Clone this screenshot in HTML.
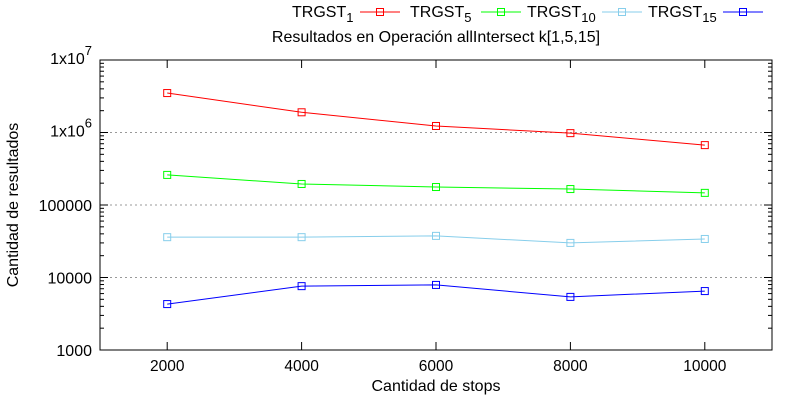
<!DOCTYPE html>
<html><head><meta charset="utf-8"><style>
html,body{margin:0;padding:0;background:#fff;}
svg text{font-family:"Liberation Sans",sans-serif;fill:#000;}
</style></head><body>
<svg id="chart" width="800" height="400" xmlns="http://www.w3.org/2000/svg">
<g id="grid"></g>
<g id="axes"></g>
<g id="series"></g>
<text x="436" y="42" font-size="16" text-anchor="middle">Resultados en Operación allIntersect k[1,5,15]</text>
<text x="436" y="391" font-size="16" text-anchor="middle">Cantidad de stops</text>
<text transform="translate(18,205) rotate(-90)" font-size="16" text-anchor="middle">Cantidad de resultados</text>
<g id="legend"></g>
</svg>
<script>
const categories = [2000, 4000, 6000, 8000, 10000];
const seriesNames = ["1", "5", "10", "15"];
const seriesColors = ["#ff0000", "#00ff00", "#87ceeb", "#0000ff"];
const trgst1 = [3500000, 1900000, 1230000, 980000, 670000];
const trgst5 = [260000, 195000, 177000, 166000, 147000];
const trgst10 = [36000, 36000, 37500, 30000, 34000];
const trgst15 = [4300, 7600, 7900, 5400, 6500];
const xTicks = [2000, 4000, 6000, 8000, 10000];
const yTicks = [1000, 10000, 100000, 1000000, 10000000];
const yTickLabels = ["1000", "10000", "100000", "1x10^6", "1x10^7"];

const NS = "http://www.w3.org/2000/svg";
const L = 100, R = 772, T = 60, B = 350;
const xMin = 1000, xMax = 11000;
function xs(v){ return L + (v - xMin) / (xMax - xMin) * (R - L); }
function ys(v){ return B - (Math.log10(v) - 3) / 4 * (B - T); }
function mk(tag, attrs, parent){ const e = document.createElementNS(NS, tag); for (const k in attrs) e.setAttribute(k, attrs[k]); parent.appendChild(e); return e; }

const grid = document.getElementById('grid');
const axes = document.getElementById('axes');
yTicks.forEach((t, i) => {
  const y = ys(t);
  if (i > 0 && i < yTicks.length - 1) {
    const g = mk('line', {x1: L, x2: R, y1: y, y2: y, stroke: '#999', 'stroke-dasharray': '2,3'}, grid);
    
    
  }
  mk('line', {x1: L, x2: L + 8, y1: y, y2: y, stroke: '#000'}, axes);
  mk('line', {x1: R, x2: R - 8, y1: y, y2: y, stroke: '#000'}, axes);
  if (i < yTicks.length - 1) {
    for (let m = 2; m < 10; m++) {
      const ym = ys(t * m);
      mk('line', {x1: L, x2: L + 4, y1: ym, y2: ym, stroke: '#000'}, axes);
      mk('line', {x1: R, x2: R - 4, y1: ym, y2: ym, stroke: '#000'}, axes);
    }
  }
  const lab = yTickLabels[i];
  const tx = mk('text', {x: L - 8, y: y + 6, 'font-size': 16, 'text-anchor': 'end'}, axes);
  
  
  if (lab.indexOf('^') >= 0) {
    const p = lab.split('^');
    tx.setAttribute('y', y + 4);
    const a = mk('tspan', {}, tx); a.textContent = p[0];
    const b = mk('tspan', {dy: -9, 'font-size': 13}, tx); b.textContent = p[1];
  } else tx.textContent = lab;
});
xTicks.forEach(t => {
  const x = xs(t);
  mk('line', {x1: x, x2: x, y1: B, y2: B - 8, stroke: '#000'}, axes);
  mk('line', {x1: x, x2: x, y1: T, y2: T + 8, stroke: '#000'}, axes);
  const tx = mk('text', {x: x, y: B + 21, 'font-size': 15.5, 'text-anchor': 'middle'}, axes);
  
  
  tx.textContent = t;
});
const frame = mk('rect', {x: L, y: T, width: R - L, height: B - T, fill: 'none', stroke: '#000'}, axes);



const allSeries = [trgst1, trgst5, trgst10, trgst15];
const sg = document.getElementById('series');
allSeries.forEach((vals, si) => {
  const c = seriesColors[si];
  const pts = vals.map((v, i) => xs(categories[i]) + ',' + ys(v)).join(' ');
  const pl = mk('polyline', {points: pts, fill: 'none', stroke: c, 'stroke-width': 1}, sg);
  
  
  vals.forEach((v, i) => {
    const r = mk('rect', {x: xs(categories[i]) - 3.5, y: ys(v) - 3.5, width: 7, height: 7, fill: 'none', stroke: c}, sg);
    
    
  });
});

const lg = document.getElementById('legend');
const legText = [292, 410, 527, 648];
const legLine = [360, 481, 602, 723];
seriesNames.forEach((n, i) => {
  const t = mk('text', {x: legText[i], y: 17, 'font-size': 16}, lg);
  
  
  const a = mk('tspan', {}, t); a.textContent = 'TRGST';
  const b = mk('tspan', {dy: 5, 'font-size': 13}, t); b.textContent = n;
  const l = mk('line', {x1: legLine[i], x2: legLine[i] + 40, y1: 12, y2: 12, stroke: seriesColors[i]}, lg);
  
  
  mk('rect', {x: legLine[i] + 16.5, y: 8.5, width: 7, height: 7, fill: 'none', stroke: seriesColors[i]}, lg);
});
</script>
</body></html>
